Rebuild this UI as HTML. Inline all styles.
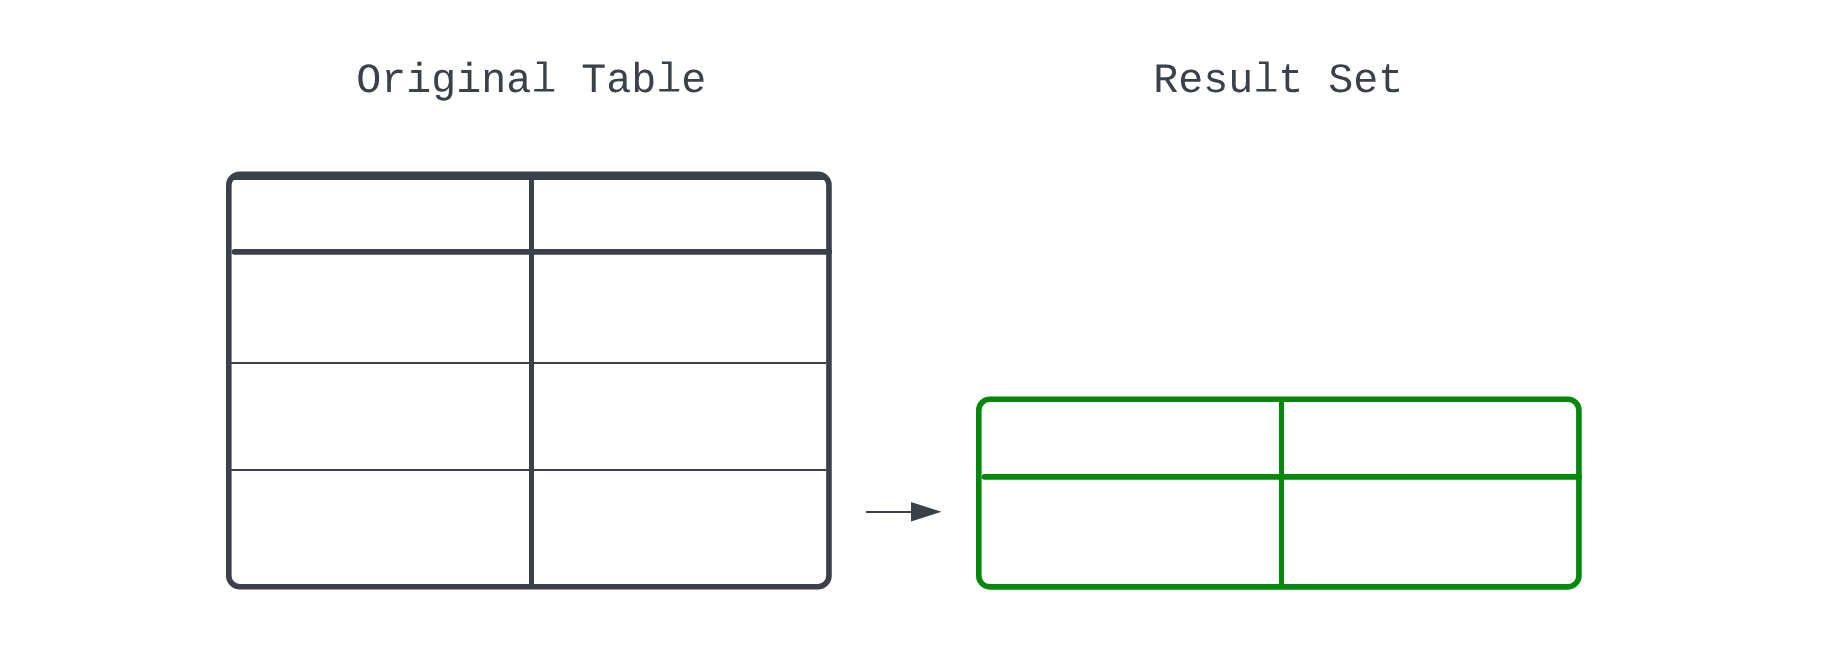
<!DOCTYPE html>
<html><head><meta charset="utf-8">
<style>
html,body{margin:0;padding:0;background:#fff;width:1834px;height:645px;overflow:hidden}
svg{display:block;will-change:transform}
text{font-family:"Liberation Mono",monospace;fill:#3b404a;text-rendering:geometricPrecision}
</style></head>
<body>
<svg width="1834" height="645" viewBox="0 0 1834 645" xmlns="http://www.w3.org/2000/svg">
<text x="531.2" y="91.6" font-size="41.67" text-anchor="middle">Origina&#160;&#160;Tab&#160;e</text>
<text x="1278.3" y="91.6" font-size="41.67" text-anchor="middle">Resu&#160;t Set</text>
<path fill="#3b404a" d="M534.3 89.05H554.2V91.55H534.3ZM543.2 61.6H546.6V91.55H543.2ZM536.9 61.6H543.2V64.1H536.9ZM659.3 89.05H679.2V91.55H659.3ZM668.2 61.6H671.6V91.55H668.2ZM661.9 61.6H668.2V64.1H661.9ZM1256.4 89.05H1276.3V91.55H1256.4ZM1265.3 61.6H1268.7V91.55H1265.3ZM1259.0 61.6H1265.3V64.1H1259.0Z"/>
<!-- original table -->
<g fill="none" stroke="#3b404a">
<rect x="228.8" y="174.2" width="600.15" height="412.6" rx="11" stroke-width="5.6"/>
<line x1="231.6" y1="178.4" x2="826.2" y2="178.4" stroke-width="3.2"/>
<line x1="234.5" y1="251.85" x2="829.2" y2="251.85" stroke-width="5.7" stroke-linecap="round"/>
<line x1="531.5" y1="176" x2="531.5" y2="586" stroke-width="5"/>
<line x1="231" y1="363" x2="826" y2="363" stroke-width="2"/>
<line x1="231" y1="470" x2="826" y2="470" stroke-width="2"/>
</g>
<!-- arrow -->
<line x1="866" y1="512" x2="912" y2="512" stroke="#3b404a" stroke-width="2"/>
<path d="M911 502.1 L941.6 511.8 L911 521.5 Z" fill="#3b404a"/>
<!-- result table -->
<g fill="none" stroke="#02890c">
<rect x="978.8" y="399.3" width="600.1" height="187.55" rx="11" stroke-width="5.6"/>
<line x1="984.5" y1="476.85" x2="1579.2" y2="476.85" stroke-width="5.8" stroke-linecap="round"/>
<line x1="1281.5" y1="401" x2="1281.5" y2="585" stroke-width="5"/>
</g>
</svg>
</body></html>
